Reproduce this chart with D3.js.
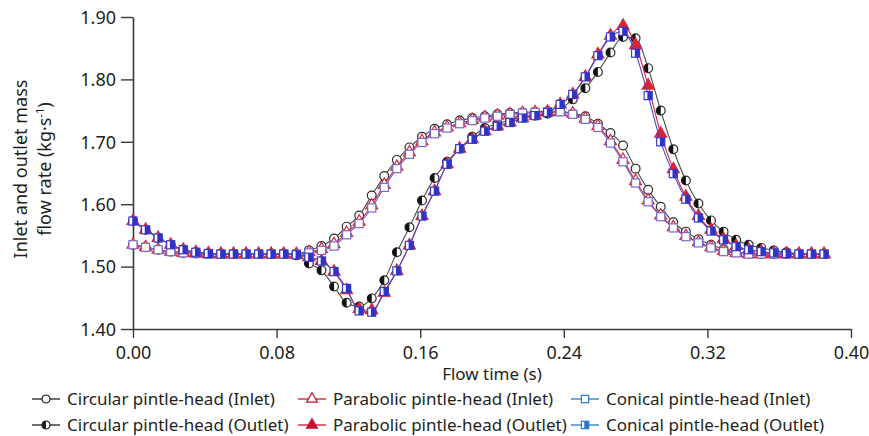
<!DOCTYPE html>
<html>
<head>
<meta charset="utf-8">
<script src="https://cdn.jsdelivr.net/npm/d3@7"></script>
<style>
  html, body { margin: 0; padding: 0; background: #fff; }
  svg text { font-family: "Noto Sans", "Open Sans", sans-serif; fill: #231f20; }
</style>
</head>
<body>
<div id="chart"></div>
<script>
'use strict'

// flow time (s)
var time = [0.000, 0.007, 0.014, 0.021, 0.028, 0.035, 0.042, 0.049, 0.056, 0.063,
            0.070, 0.077, 0.084, 0.091, 0.098, 0.105, 0.112, 0.119, 0.126, 0.133,
            0.140, 0.147, 0.154, 0.161, 0.168, 0.175, 0.182, 0.189, 0.196, 0.203,
            0.210, 0.217, 0.224, 0.231, 0.238, 0.245, 0.252, 0.259, 0.266, 0.273,
            0.280, 0.287, 0.294, 0.301, 0.308, 0.315, 0.322, 0.329, 0.336, 0.343,
            0.350, 0.357, 0.364, 0.371, 0.378, 0.385]

var circularInlet = [1.535, 1.531, 1.527, 1.524, 1.522, 1.521, 1.520, 1.520, 1.520, 1.520,
                     1.520, 1.520, 1.520, 1.520, 1.526, 1.533, 1.545, 1.564, 1.582, 1.614,
                     1.645, 1.671, 1.691, 1.708, 1.721, 1.728, 1.734, 1.738, 1.741, 1.744,
                     1.746, 1.747, 1.748, 1.749, 1.749, 1.745, 1.741, 1.729, 1.714, 1.694,
                     1.657, 1.623, 1.596, 1.571, 1.556, 1.544, 1.535, 1.528, 1.523, 1.521,
                     1.520, 1.520, 1.520, 1.520, 1.520, 1.520]

var parabolicInlet = [1.535, 1.531, 1.527, 1.524, 1.522, 1.521, 1.520, 1.520, 1.520, 1.520,
                      1.520, 1.520, 1.520, 1.520, 1.523, 1.528, 1.536, 1.554, 1.572, 1.598,
                      1.631, 1.660, 1.683, 1.701, 1.715, 1.723, 1.730, 1.735, 1.739, 1.742,
                      1.744, 1.746, 1.747, 1.748, 1.748, 1.745, 1.737, 1.725, 1.701, 1.671,
                      1.637, 1.606, 1.582, 1.563, 1.549, 1.539, 1.531, 1.525, 1.522, 1.520,
                      1.520, 1.520, 1.520, 1.520, 1.520, 1.520]

var conicalInlet = [1.535, 1.531, 1.527, 1.524, 1.522, 1.521, 1.520, 1.520, 1.520, 1.520,
                    1.520, 1.520, 1.520, 1.520, 1.522, 1.526, 1.533, 1.551, 1.569, 1.594,
                    1.627, 1.657, 1.680, 1.699, 1.713, 1.722, 1.729, 1.734, 1.738, 1.741,
                    1.744, 1.746, 1.747, 1.748, 1.748, 1.744, 1.736, 1.723, 1.698, 1.668,
                    1.634, 1.604, 1.580, 1.562, 1.548, 1.538, 1.530, 1.524, 1.522, 1.520,
                    1.520, 1.520, 1.520, 1.520, 1.520, 1.520]

var circularOutlet = [1.573, 1.559, 1.546, 1.535, 1.527, 1.523, 1.521, 1.520, 1.520, 1.520,
                      1.520, 1.520, 1.520, 1.518, 1.505, 1.494, 1.468, 1.442, 1.436, 1.449,
                      1.478, 1.523, 1.563, 1.606, 1.642, 1.668, 1.689, 1.708, 1.722, 1.729,
                      1.735, 1.739, 1.742, 1.745, 1.752, 1.768, 1.786, 1.812, 1.843, 1.868,
                      1.866, 1.818, 1.750, 1.688, 1.638, 1.601, 1.574, 1.556, 1.543, 1.535,
                      1.530, 1.526, 1.523, 1.521, 1.520, 1.520]

var parabolicOutlet = [1.573, 1.559, 1.546, 1.535, 1.527, 1.523, 1.521, 1.520, 1.520, 1.520,
                       1.520, 1.520, 1.520, 1.519, 1.515, 1.509, 1.492, 1.462, 1.432, 1.430,
                       1.458, 1.493, 1.534, 1.581, 1.621, 1.664, 1.689, 1.704, 1.717, 1.725,
                       1.731, 1.738, 1.742, 1.747, 1.760, 1.776, 1.804, 1.840, 1.870, 1.886,
                       1.855, 1.790, 1.713, 1.656, 1.612, 1.581, 1.559, 1.544, 1.533, 1.527,
                       1.524, 1.522, 1.521, 1.520, 1.520, 1.520]

var conicalOutlet = [1.573, 1.559, 1.546, 1.535, 1.527, 1.523, 1.521, 1.520, 1.520, 1.520,
                     1.520, 1.520, 1.520, 1.519, 1.515, 1.509, 1.492, 1.465, 1.429, 1.427,
                     1.460, 1.493, 1.534, 1.581, 1.621, 1.664, 1.689, 1.704, 1.717, 1.725,
                     1.731, 1.738, 1.742, 1.747, 1.760, 1.776, 1.804, 1.838, 1.868, 1.877,
                     1.842, 1.774, 1.700, 1.649, 1.608, 1.578, 1.557, 1.543, 1.532, 1.527,
                     1.524, 1.522, 1.521, 1.520, 1.520, 1.520]

var xTicks = [0.00, 0.08, 0.16, 0.24, 0.32, 0.40]
var yTicks = [1.40, 1.50, 1.60, 1.70, 1.80, 1.90]

var legendLabels = ['Circular pintle-head (Inlet)', 'Parabolic pintle-head (Inlet)', 'Conical pintle-head (Inlet)',
                    'Circular pintle-head (Outlet)', 'Parabolic pintle-head (Outlet)', 'Conical pintle-head (Outlet)']

// series styles: shape, line colour, marker stroke, fill mode
var series = [
  { name: legendLabels[0], values: circularInlet, shape: 'circle', line: '#4a4a4a', stroke: '#2b2b2b', fill: 'open', mark: '#2b2b2b' },
  { name: legendLabels[3], values: circularOutlet, shape: 'circle', line: '#4a4a4a', stroke: '#2b2b2b', fill: 'half', mark: '#111' },
  { name: legendLabels[1], values: parabolicInlet, shape: 'triangle', line: '#d7263d', stroke: '#d7263d', fill: 'open', mark: '#d7263d' },
  { name: legendLabels[4], values: parabolicOutlet, shape: 'triangle', line: '#d7263d', stroke: '#d7263d', fill: 'full', mark: '#e0202e' },
  { name: legendLabels[2], values: conicalInlet, shape: 'square', line: '#7461c4', stroke: '#7a68c6', fill: 'open', mark: '#7a68c6' },
  { name: legendLabels[5], values: conicalOutlet, shape: 'square', line: '#5048c4', stroke: '#3b3bc9', fill: 'half', mark: '#2f34c8' }
]

var W = 869, H = 436
var svg = d3.select('#chart').append('svg')
            .attr('width', W)
            .attr('height', H)

var x = d3.scaleLinear().domain([0, 0.40]).range([133, 851])
var y = d3.scaleLinear().domain([1.40, 1.90]).range([329, 17])

// axes
var xAxis = svg.append('g')
               .attr('transform', 'translate(0,' + y(1.40) + ')')
               .call(d3.axisBottom(x).tickValues(xTicks).tickFormat(d3.format('.2f')).tickSize(9).tickSizeOuter(0))
var yAxis = svg.append('g')
               .attr('transform', 'translate(' + x(0) + ',0)')
               .call(d3.axisLeft(y).tickValues(yTicks).tickFormat(d3.format('.2f')).tickSize(12).tickSizeOuter(0))

;[xAxis, yAxis].forEach(function (g) {
  g.select('.domain').attr('stroke', '#3a3a3a').attr('stroke-width', 1.6)
  g.selectAll('.tick line').attr('stroke', '#3a3a3a').attr('stroke-width', 1.4)
  g.selectAll('.tick text').attr('font-size', 18).attr('fill', '#231f20')
   .style('font-family', '"Noto Sans", sans-serif')
})
xAxis.selectAll('.tick text').attr('dy', '1.0em')
yAxis.selectAll('.tick text').attr('x', -17).attr('dy', '0.35em')

// axis titles
svg.append('text')
   .attr('x', 492).attr('y', 380)
   .attr('text-anchor', 'middle')
   .attr('font-size', 17)
   .text('Flow time (s)')

var yTitle = svg.append('text')
                .attr('transform', 'translate(27,169) rotate(-90)')
                .attr('text-anchor', 'middle')
                .attr('font-size', 18)
yTitle.append('tspan').attr('x', 0).attr('dy', 0).text('Inlet and outlet mass')
var l2 = yTitle.append('tspan').attr('x', 0).attr('dy', 24).text('flow rate (kg·s')
l2.append('tspan').attr('dy', -7).attr('font-size', 11).text('-1')
l2.append('tspan').attr('dy', 7).text(')')

// marker drawing
function drawMarker (g, s, size) {
  var r = size
  if (s.shape === 'circle') {
    g.append('circle').attr('r', r).attr('fill', '#fff').attr('stroke', s.stroke).attr('stroke-width', 1.2)
    if (s.fill === 'half') {
      g.append('path').attr('d', 'M0,' + (-r) + 'A' + r + ',' + r + ' 0 0 0 0,' + r + 'Z').attr('fill', s.mark)
    }
  } else if (s.shape === 'triangle') {
    g.append('path')
     .attr('d', d3.symbol().type(d3.symbolTriangle).size(r * r * 3.2)())
     .attr('fill', s.fill === 'full' ? s.mark : '#fff')
     .attr('stroke', s.stroke).attr('stroke-width', 1.2)
  } else {
    var a = r * 0.92
    g.append('rect').attr('x', -a).attr('y', -a).attr('width', 2 * a).attr('height', 2 * a)
     .attr('fill', '#fff').attr('stroke', s.stroke).attr('stroke-width', 1.2)
    if (s.fill === 'half') {
      g.append('rect').attr('x', -a * 0.2).attr('y', -a).attr('width', a * 1.2).attr('height', 2 * a).attr('fill', s.mark)
    }
  }
}

var line = d3.line()
             .x(function (d) { return x(d[0]) })
             .y(function (d) { return y(d[1]) })
             .curve(d3.curveMonotoneX)

var plot = svg.append('g')
series.forEach(function (s) {
  var pts = time.map(function (t, i) { return [t, s.values[i]] })
  plot.append('path')
      .datum(pts)
      .attr('fill', 'none')
      .attr('stroke', s.line)
      .attr('stroke-width', 1.1)
      .attr('d', line)
  plot.selectAll(null)
      .data(pts)
      .enter().append('g')
      .attr('transform', function (d) { return 'translate(' + x(d[0]) + ',' + y(d[1]) + ')' })
      .each(function () { drawMarker(d3.select(this), s, 4.4) })
})

// legend
var legendColors = { circle: '#231f20', triangle: '#c8102e', square: '#2878c8' }
var legendX = [32, 298, 571]
var legendY = [405, 431]
var legendOrder = [
  { shape: 'circle', fill: 'open' }, { shape: 'triangle', fill: 'open' }, { shape: 'square', fill: 'open' },
  { shape: 'circle', fill: 'half' }, { shape: 'triangle', fill: 'full' }, { shape: 'square', fill: 'half' }
]
legendLabels.forEach(function (label, i) {
  var col = i % 3, row = Math.floor(i / 3)
  var lx = legendX[col], ly = legendY[row]
  var st = legendOrder[i]
  var c = legendColors[st.shape]
  var g = svg.append('g').attr('transform', 'translate(' + lx + ',' + (ly - 6) + ')')
  g.append('line').attr('x1', 0).attr('x2', 28).attr('stroke', c).attr('stroke-width', 1.3)
  var m = g.append('g').attr('transform', 'translate(14,0)')
  drawMarker(m, { shape: st.shape, stroke: c, mark: c, fill: st.fill }, 4)
  g.append('text').attr('x', 35).attr('y', 6).attr('font-size', 17).text(label)
})
</script>
</body>
</html>
